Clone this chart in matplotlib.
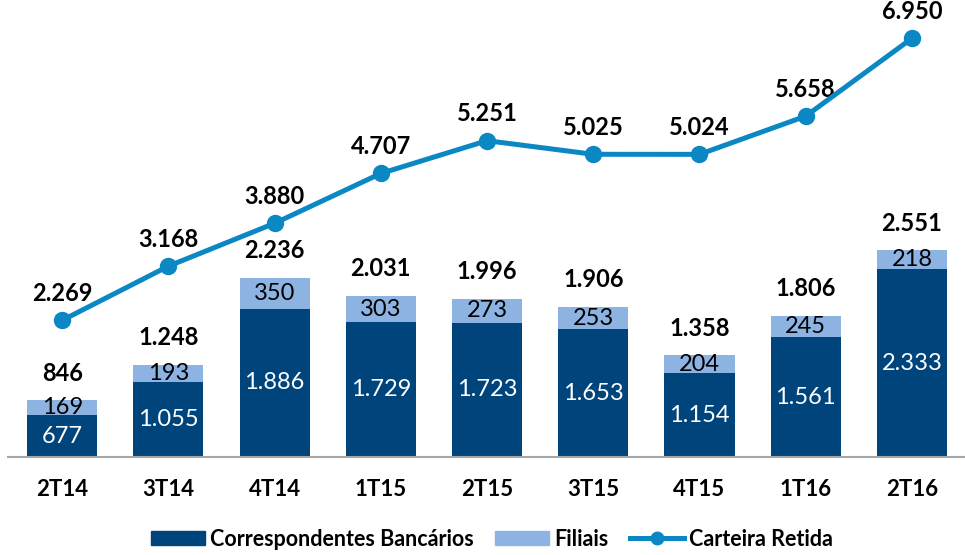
import matplotlib
matplotlib.use("Agg")
import matplotlib.pyplot as plt
import numpy as np
from matplotlib.lines import Line2D
from matplotlib.patches import Patch

categories = ['2T14', '3T14', '4T14', '1T15', '2T15', '3T15', '4T15', '1T16', '2T16']
correspondentes = [677, 1055, 1886, 1729, 1723, 1653, 1154, 1561, 2333]
filiais = [169, 193, 350, 303, 273, 253, 204, 245, 218]
totais = [846, 1248, 2236, 2031, 1996, 1906, 1358, 1806, 2551]
carteira = [2269, 3168, 3880, 4707, 5251, 5025, 5024, 5658, 6950]

C_DARK = '#00447C'
C_LIGHT = '#8DB3E2'
C_LINE = '#0B88C4'
FONT = ['Lato', 'DejaVu Sans']
plt.rcParams['font.family'] = FONT


def fmt(v):
    return f"{v:,}".replace(",", ".")


W, H = 965, 555
fig = plt.figure(figsize=(W / 100, H / 100), dpi=100)
left, right, top, bottom = 8, 965, 10, 457
ax = fig.add_axes([left / W, 1 - bottom / H, (right - left) / W, (bottom - top) / H])

x = np.arange(len(categories))
bw = 0.66
ax.bar(x, correspondentes, bw, color=C_DARK, bottom=0, zorder=2)
ax.bar(x, filiais, bw, bottom=correspondentes, color=C_LIGHT, zorder=2)

ax.set_xlim(-0.51, 8.5)
ax.set_ylim(200, 200 + (bottom - top) / 0.088)

for i in range(len(categories)):
    c = correspondentes[i]
    f = filiais[i]
    ax.text(x[i], (200 + c) / 2, fmt(c), ha='center', va='center',
            color='white', fontsize=17, zorder=3)
    ax.text(x[i], c + f / 2, fmt(f), ha='center', va='center', color='black', fontsize=17, zorder=3)
    ax.annotate(fmt(totais[i]), (x[i], totais[i]), xytext=(0, 19.5), textcoords='offset points',
                ha='center', va='center', fontsize=17, fontweight='bold', color='black', zorder=3)

for s in ['top', 'right', 'left']:
    ax.spines[s].set_visible(False)
ax.spines['bottom'].set_color('#A6A6A6')
ax.spines['bottom'].set_linewidth(1.5)
ax.set_yticks([])
ax.set_xticks(x)
ax.set_xticklabels(categories, fontsize=16, fontweight='bold')
ax.tick_params(axis='x', length=0, pad=16)

ax2 = ax.twinx()
ax2.set_ylim(0, (bottom - top) / 0.06024)
ax2.plot(x, carteira, color=C_LINE, lw=3.6, marker='o', markersize=11.5, zorder=4)
for i in range(len(categories)):
    ax2.annotate(fmt(carteira[i]), (x[i], carteira[i]), xytext=(0, 19.5), textcoords='offset points',
                 ha='center', va='center', fontsize=17, fontweight='bold', color='black')
ax2.axis('off')

handles = [Patch(color=C_DARK), Patch(color=C_LIGHT),
           Line2D([0], [0], color=C_LINE, lw=3.6, marker='o', markersize=9)]
labels = ['Correspondentes Bancários', 'Filiais', 'Carteira Retida']
leg = fig.legend(handles, labels, loc='center', bbox_to_anchor=(492 / W, 1 - 539 / H), ncol=3,
                 frameon=False, handlelength=2.5, handleheight=0.6, columnspacing=1.0, handletextpad=0.25,
                 prop={'family': FONT, 'weight': 'bold', 'size': 15.5})

fig.savefig('out.png', dpi=100)
